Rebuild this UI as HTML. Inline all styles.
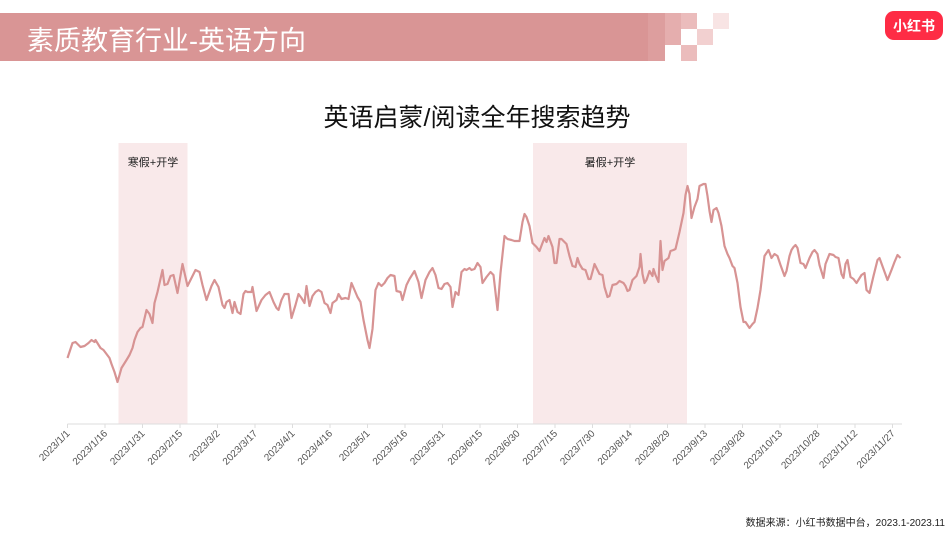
<!DOCTYPE html>
<html><head><meta charset="utf-8">
<style>
body{margin:0;width:950px;height:535px;background:#fff;overflow:hidden;font-family:"Liberation Sans","Noto Sans CJK SC",sans-serif;}
</style></head>
<body>
<svg width="950" height="535" viewBox="0 0 950 535" xmlns="http://www.w3.org/2000/svg" style="position:absolute;left:0;top:0">
<g>
<rect x="0" y="13" width="648" height="48" fill="#d99595"/>
<rect x="648" y="13" width="17" height="48" fill="#dd9e9e"/>
<rect x="665" y="13" width="16" height="32" fill="#e5aeae"/>
<rect x="681" y="13" width="16" height="16" fill="#ebbcbc"/>
<rect x="681" y="45" width="16" height="16" fill="#ebbcbc"/>
<rect x="697" y="29" width="16" height="16" fill="#f2d0d0"/>
<rect x="713" y="13" width="16" height="16" fill="#f8e4e4"/>
<text x="27" y="50" fill="#fff" font-size="27" font-family="Liberation Sans, Noto Sans CJK SC, sans-serif">素质教育行业-英语方向</text>
</g>
<g>
<rect x="885" y="11" width="58" height="29" rx="9" fill="#fe2c45"/>
<text x="914" y="31" fill="#fff" font-size="14" font-weight="bold" text-anchor="middle">小红书</text>
</g>
<text x="477" y="126" font-size="25" text-anchor="middle" fill="#111">英语启蒙/阅读全年搜索趋势</text>
<g id="chart"></g>
<text x="945" y="526" font-size="10" text-anchor="end" fill="#222">数据来源：小红书数据中台，2023.1-2023.11</text>
</svg>
<script>
const tickLabels=["2023/1/1","2023/1/16","2023/1/31","2023/2/15","2023/3/2","2023/3/17","2023/4/1","2023/4/16","2023/5/1","2023/5/16","2023/5/31","2023/6/15","2023/6/30","2023/7/15","2023/7/30","2023/8/14","2023/8/29","2023/9/13","2023/9/28","2023/10/13","2023/10/28","2023/11/12","2023/11/27"];
const tickDays=[0,15,30,45,60,75,90,105,120,135,150,165,180,195,210,225,240,255,270,285,300,315,330];
const bandLabels=["寒假+开学","暑假+开学"];
const bandStarts=[20.4,186.2];
const bandEnds=[48,247.8];
const days=[0,2,3.2,5.2,6.8,8.4,9.6,10.8,11.2,13.2,14.4,16.8,17.6,18.8,20,21.6,23.6,24.8,26,26.8,28,29.2,30,31.6,32.8,34,34.8,36,38,38.8,40,41.2,42.4,44,46,48,49.6,51.2,52.8,54,55.6,57.6,58.8,60.4,62,62.8,63.6,64.8,66,66.8,68,69.2,70.4,71.2,72,73.6,74,75.6,77.6,79.2,80.8,82.4,83.6,84.4,85.6,86.8,88.4,89.6,91.2,92.4,93.6,94.8,95.6,96.8,98,99.2,100.4,101.6,102.8,104,105.2,106,107.6,108.4,109.6,111.2,112.4,113.6,114.8,116,117.2,118.4,120,120.8,122,123.2,124.4,125.6,126.8,128,129.2,130.8,131.6,133.2,134,135.6,136.8,138.8,140.4,141.6,143.2,144.8,146,147.2,148.4,149.6,150.8,152,153.2,154,155.2,156.4,157.6,158.8,159.6,160.8,161.6,162.8,164,165.2,166,167.6,169.2,170.4,172,173.2,174.8,176,177.6,178.8,180.8,182,182.8,183.6,184.8,186,187.6,188.8,190,190.8,191.6,192.4,194,194.8,195.6,196.8,197.6,198.8,199.6,200.8,202,203.2,204,204.8,206,207.2,208.4,209.2,210.4,210.8,212,212.8,214,214.8,216,216.8,218,219.6,220.8,222.4,223.2,224,224.8,226,227.6,228.8,229.2,230,230.8,231.6,232.8,234,234.4,235.2,236.4,237.2,238,238.8,240.4,241.2,242.4,243.2,244.8,246.4,247.2,248,248.8,249.6,250.8,252,252.8,254.4,255.2,256,256.8,257.6,258.4,259.6,260.4,261.6,262.8,264,264.8,266,266.8,268,269.2,270.4,271.2,272.8,274,274.8,276,277.2,278.8,279.6,280.4,281.6,282.8,284,285.2,286.8,287.6,288.8,289.6,290.4,291.2,292,293.2,294.4,295.2,296.8,298,298.8,300,300.8,302.4,303.2,304.8,306.4,307.2,308.4,309.6,310.4,311.2,312,313.2,314.4,315.6,317.6,318.8,319.6,320.8,322.4,324,324.8,326.4,328,329.6,330.8,332,333.2];
const values=[66,81,82,77,78,81,84,82,84,76,74,66,60,52,42,56,64,69,76,84,92,96,97,114,110,101,121,132,154,139,140,148,149,131,160,138,146,154,152,139,124,138,144,137,119,116,122,124,111,122,112,110,130,133,132,132,137,113,124,129,132,122,116,114,124,130,130,106,119,130,126,121,138,118,128,132,134,132,121,119,111,121,124,130,125,126,125,141,134,127,122,104,84,76,95,134,141,138,141,146,149,148,133,132,124,139,145,153,142,126,144,152,156,149,136,135,140,141,137,117,132,129,152,155,154,156,154,155,161,157,141,147,152,149,114,151,188,185,184,183,183,202,210,207,198,181,177,173,181,186,182,188,177,161,161,185,185,182,180,168,158,157,166,160,155,154,145,145,156,160,154,150,149,137,127,128,139,140,143,141,138,133,134,144,148,157,170,150,141,144,153,148,155,149,142,183,154,163,166,173,174,175,192,211,229,238,230,206,217,225,238,240,240,228,213,202,214,216,211,198,178,170,166,158,156,141,117,102,102,96,100,102,116,134,168,171,174,166,170,168,159,148,153,168,174,177,179,176,161,160,156,166,172,174,170,159,146,160,170,169,167,166,150,146,160,164,147,145,141,149,151,134,131,148,164,166,155,144,154,162,169,166];
const NS="http://www.w3.org/2000/svg";
const g=document.getElementById('chart');
const X0=67.5,PXD=2.5,Y0=424,PXV=1;
function xs(d){return X0+d*PXD;}
function ys(v){return Y0-v*PXV;}
function mk(t,a){const e=document.createElementNS(NS,t);for(const k in a)e.setAttribute(k,a[k]);g.appendChild(e);return e;}
for(let i=0;i<bandLabels.length;i++){
  const r=mk('rect',{x:xs(bandStarts[i]),y:143,width:xs(bandEnds[i])-xs(bandStarts[i]),height:Y0-143,fill:'#f9e9ea'});
  
  
  const t=mk('text',{x:(xs(bandStarts[i])+xs(bandEnds[i]))/2,y:166,'font-size':11,'text-anchor':'middle',fill:'#222'});
  t.textContent=bandLabels[i];
  
  
}
const ax=mk('line',{x1:X0,y1:Y0,x2:902,y2:Y0,stroke:'#ddd','stroke-width':1});


for(let i=0;i<tickDays.length;i++){
  const x=xs(tickDays[i]);
  const tk=mk('line',{x1:x,y1:Y0,x2:x,y2:Y0+4,stroke:'#ddd'});
  
  
  const t=mk('text',{x:x+3,y:Y0+10,'font-size':10,'text-anchor':'end',fill:'#555',transform:`rotate(-45 ${x+3} ${Y0+10})`});
  t.textContent=tickLabels[i];
  
  
}
let d='';
for(let i=0;i<days.length;i++){d+=(i?'L':'M')+xs(days[i]).toFixed(1)+' '+ys(values[i]).toFixed(1);}
const p=mk('path',{d:d,fill:'none',stroke:'#d79393','stroke-width':2.2,'stroke-linejoin':'round'});


</script>
</body></html>
